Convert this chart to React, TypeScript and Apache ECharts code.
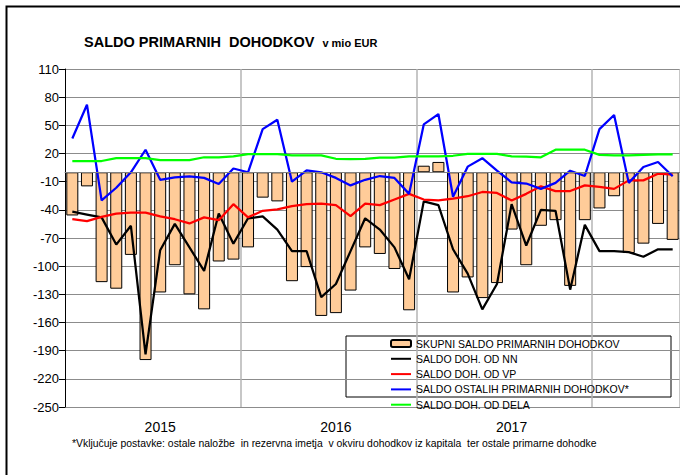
import React, { useEffect, useRef } from "react";
import * as echarts from "echarts";

const months = [
  "2015-01","2015-02","2015-03","2015-04","2015-05","2015-06","2015-07","2015-08","2015-09","2015-10","2015-11","2015-12",
  "2016-01","2016-02","2016-03","2016-04","2016-05","2016-06","2016-07","2016-08","2016-09","2016-10","2016-11","2016-12",
  "2017-01","2017-02","2017-03","2017-04","2017-05","2017-06","2017-07","2017-08","2017-09","2017-10","2017-11","2017-12",
  "2018-01","2018-02","2018-03","2018-04","2018-05","2018-06",
];

const yearLabels: Record<string, string> = { "2015-07": "2015", "2016-07": "2016", "2017-07": "2017" };

const skupni = [
  -46, -15, -117, -124, -88, -200, -128, -99, -130, -146, -95, -93,
  -80, -27, -31, -116, -101, -153, -150, -126, -80, -87, -103, -147,
  7, 11, -128, -112, -134, -118, -61, -99, -57, -51, -121, -51,
  -38.5, -25.5, -86, -76, -55, -72,
];

const nn = [
  -42, -45, -48, -77, -57, -194, -83, -55, -80, -105, -44, -76,
  -49, -47, -61, -84, -84, -133, -119, -84, -49, -61, -80, -114,
  -31, -35, -82, -108, -146, -119, -34, -78, -40, -41, -125, -56,
  -84, -84, -85, -90, -82, -82,
];

const vp = [
  -50, -52, -47.5, -44, -43, -43, -47, -50, -54.5, -48, -51, -34,
  -48, -41, -39.5, -36, -34, -33.5, -35, -46.7, -33.5, -35, -29, -23,
  -29, -30, -28, -25.5, -21, -22, -30, -23, -15, -20, -20, -14,
  -15.5, -17.7, -8.6, -8.6, -1.5, -2.5,
];

const ostali = [
  36, 72, -30, -16.5, 0, 24, -8, -5.4, -4.3, -6, -12.4, 4,
  0, 46, 56, -10, 2, 0, -6, -14, -8, -4, -6, -23,
  51, 62, -26, 6, 15, 1.7, -10.7, -12, -17.7, -11.3, 1.7, -4,
  46, 61, -11.3, 5.6, 11, -4.3,
];

const dela = [
  12, 12, 12, 15, 15, 15, 13, 13, 13, 16, 16, 17,
  19.4, 19.4, 19.4, 18, 18, 18, 14.4, 14, 14.4, 15.7, 15.7, 17,
  17, 17, 17.6, 19.7, 19.7, 19.7, 17, 16.7, 16, 24, 24, 24,
  18.6, 18, 18, 18.6, 19, 19,
];

const seriesNames = [
  "SKUPNI SALDO PRIMARNIH DOHODKOV",
  "SALDO DOH. OD NN",
  "SALDO DOH. OD VP",
  "SALDO OSTALIH PRIMARNIH DOHODKOV*",
  "SALDO DOH. OD DELA",
];

const titleText = "SALDO PRIMARNIH  DOHODKOV";
const unitText = "v mio EUR";
const footnote =
  "*Vključuje postavke: ostale naložbe  in rezervna imetja  v okviru dohodkov iz kapitala  ter ostale primarne dohodke";

const FONT = "Arial, 'Liberation Sans', sans-serif";

export default function App() {
  const ref = useRef<HTMLDivElement>(null);
  useEffect(() => {
    if (!ref.current) return;
    const chart = echarts.init(ref.current, null, { renderer: "svg" });
    const lineSeries = (name: string, data: number[], color: string) => ({
      type: "line",
      name,
      data,
      symbol: "none",
      lineStyle: { color, width: 2.25 },
      itemStyle: { color },
      z: 3,
    });
    chart.setOption({
      animation: false,
      backgroundColor: "#ffffff",
      textStyle: { fontFamily: FONT },
      title: {
        text: `{a|${titleText}} {b|${unitText}}`,
        left: 79,
        top: 28,
        textStyle: {
          rich: {
            a: { fontSize: 14.5, fontWeight: "bold", color: "#000", fontFamily: FONT },
            b: { fontSize: 11, color: "#000", fontFamily: FONT, padding: [2, 0, 0, 3] },
          },
        },
      },
      grid: { left: 65, top: 69, width: 617, height: 338, containLabel: false },
      xAxis: {
        type: "category",
        data: months,
        boundaryGap: true,
        axisLine: { show: true, lineStyle: { color: "#808080", width: 1 } },
        axisTick: { show: false },
        axisLabel: {
          interval: (_i: number, v: string) => v in yearLabels,
          formatter: (v: string) => yearLabels[v] ?? "",
          fontSize: 14,
          color: "#000",
          fontFamily: FONT,
          margin: 13,
        },
        splitLine: {
          show: true,
          interval: (i: number) => i > 0 && i % 12 === 0,
          lineStyle: { color: "#b4b4b4", width: 1.5 },
        },
      },
      yAxis: {
        type: "value",
        min: -250,
        max: 110,
        interval: 30,
        axisLine: { show: true, lineStyle: { color: "#000", width: 1 } },
        axisTick: { show: true, length: 6, lineStyle: { color: "#000" } },
        axisLabel: { fontSize: 13, color: "#000", fontFamily: FONT, margin: 6 },
        splitLine: { show: true, lineStyle: { color: "#8c8c8c", width: 1 } },
      },
      legend: {
        orient: "vertical",
        left: 390,
        top: 336,
        itemWidth: 20,
        itemHeight: 7,
        itemGap: 4.3,
        padding: [2, 0, 0, 0],
        textStyle: { fontSize: 10.5, color: "#000", fontFamily: FONT },
        data: seriesNames.map((name, i) =>
          i === 0 ? { name } : { name, itemStyle: { opacity: 0 } }
        ),
      },
      series: [
        {
          type: "bar",
          name: seriesNames[0],
          data: skupni,
          barCategoryGap: "18%",
          itemStyle: { color: "#FFCC99", borderColor: "#000", borderWidth: 1 },
          z: 2,
          markLine: {
            silent: true,
            symbol: "none",
            label: { show: false },
            lineStyle: { color: "#808080", type: "solid", width: 1 },
            data: [{ yAxis: 0 }],
          },
        },
        lineSeries(seriesNames[1], nn, "#000000"),
        lineSeries(seriesNames[2], vp, "#FF0000"),
        lineSeries(seriesNames[3], ostali, "#0000FF"),
        lineSeries(seriesNames[4], dela, "#00FF00"),
      ],
      graphic: [
        {
          type: "rect",
          silent: true,
          z: -1,
          shape: { x: 346, y: 336, width: 325, height: 61 },
          style: { fill: "#fff", stroke: "#000", lineWidth: 1 },
        },
        {
          type: "rect",
          silent: true,
          shape: { x: 6.5, y: 6.5, width: 700, height: 500 },
          style: { fill: "none", stroke: "#000", lineWidth: 2 },
        },
        {
          type: "text",
          silent: true,
          x: 72,
          y: 443,
          style: {
            text: footnote,
            fontSize: 10.4,
            fontFamily: FONT,
            fill: "#000",
            verticalAlign: "middle",
          },
        },
      ],
    });
    return () => chart.dispose();
  }, []);
  return (
    <div
      ref={ref}
      style={{ position: "fixed", left: 0, top: 0, width: 680, height: 475, background: "#fff" }}
    />
  );
}
